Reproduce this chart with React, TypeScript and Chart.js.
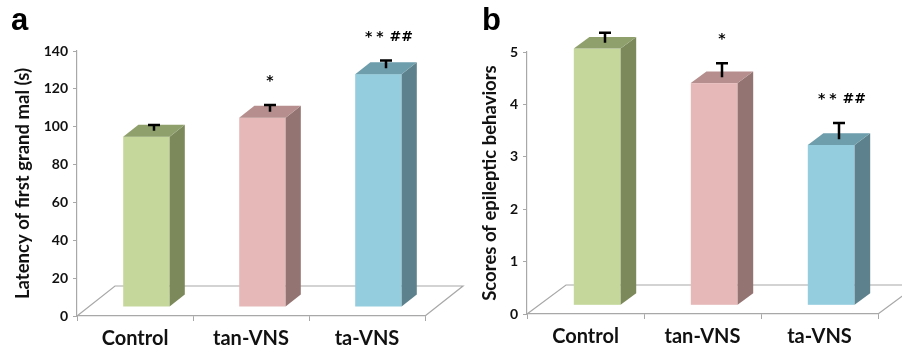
import React, { useEffect, useRef } from "react";
import { Chart, registerables } from "chart.js";

Chart.register(...registerables);

// ---- data ----
const categories = ["Control", "tan-VNS", "ta-VNS"];
const latencyMeans = [90, 100, 123];
const latencyErrors = [3, 3.5, 4];
const scoreMeans = [4.9, 4.24, 3.06];
const scoreErrors = [0.19, 0.27, 0.31];
const significanceMarks = ["", "*", "** ##"];
const latencyTicks = [0, 20, 40, 60, 80, 100, 120, 140];
const scoreTicks = [0, 1, 2, 3, 4, 5];
const latencyTitle = "Latency of first grand mal (s)";
const scoreTitle = "Scores of epileptic behaviors";

// ---- styles ----
const frontColors = ["#c5d79b", "#e6b8b8", "#94cdde"];
const sideColors = ["#7c895b", "#947473", "#5e828d"];
const topColors = ["#8fa06c", "#b58e8d", "#6e9eac"];
const AXIS = "#a8a8a8";
const FONT = "Lato, 'Open Sans', sans-serif";

function drawMark(ctx: CanvasRenderingContext2D, mark: string, cx: number, baseY: number) {
  ctx.font = "bold 14px 'DejaVu Sans', sans-serif";
  ctx.textAlign = "left";
  ctx.textBaseline = "alphabetic";
  const chars = mark.split("");
  const adv = chars.map((c) => (c === "*" ? ctx.measureText(c).width + 4 : c === " " ? 2 : ctx.measureText(c).width));
  let total = adv.reduce((a, v) => a + v, 0);
  if (chars[chars.length - 1] === "*") total -= 4;
  let x = cx - total / 2;
  chars.forEach((c, i) => {
    if (c !== " ") ctx.fillText(c, x, baseY);
    x += adv[i];
  });
}

const bar3dPlugin = {
  id: "bar3d",
  afterDatasetsDraw(chart: any, _args: any, opts: any) {
    const { ctx, chartArea, scales } = chart;
    const y = scales.y;
    const D = opts.depth;
    const y0 = y.getPixelForValue(0);
    ctx.save();
    // floor
    ctx.strokeStyle = AXIS;
    ctx.lineWidth = 1.2;
    ctx.beginPath();
    ctx.moveTo(chartArea.left, y0);
    ctx.lineTo(chartArea.left + D.dx, y0 + D.dy);
    ctx.lineTo(chartArea.right + D.dx, y0 + D.dy);
    ctx.lineTo(chartArea.right, y0);
    ctx.stroke();

    const meta = chart.getDatasetMeta(0);
    const values = chart.data.datasets[0].data;
    const f = 0.3, b = 0.7, m = 0.5;
    meta.data.forEach((el: any, i: number) => {
      const w = el.width;
      const left = el.x - w / 2;
      const right = el.x + w / 2;
      const fx = f * D.dx, fy = f * D.dy, bx = b * D.dx, by = b * D.dy;
      const top = el.y, base = el.base;
      // front face
      ctx.fillStyle = frontColors[i];
      ctx.fillRect(left + fx, top + fy, w, base - top);
      // side face
      ctx.fillStyle = sideColors[i];
      ctx.beginPath();
      ctx.moveTo(right + fx, top + fy);
      ctx.lineTo(right + bx, top + by);
      ctx.lineTo(right + bx, base + by);
      ctx.lineTo(right + fx, base + fy);
      ctx.closePath();
      ctx.fill();
      // top face
      ctx.fillStyle = topColors[i];
      ctx.beginPath();
      ctx.moveTo(left + fx, top + fy);
      ctx.lineTo(right + fx, top + fy);
      ctx.lineTo(right + bx, top + by);
      ctx.lineTo(left + bx, top + by);
      ctx.closePath();
      ctx.fill();

      // error bar (upper only)
      const cx = el.x + m * D.dx;
      const cy = top + m * D.dy;
      const ey = y.getPixelForValue(values[i] + opts.errors[i]) + m * D.dy;
      ctx.strokeStyle = "#000";
      ctx.lineWidth = 2.5;
      ctx.beginPath();
      ctx.moveTo(cx, cy);
      ctx.lineTo(cx, ey);
      ctx.moveTo(cx - 6, ey);
      ctx.lineTo(cx + 6, ey);
      ctx.stroke();

      // significance marks
      const mark = opts.marks[i];
      if (mark) {
        ctx.fillStyle = "#000";
        drawMark(ctx, mark, cx + (mark.length > 1 ? 3 : 0), ey - 20);
      }
    });

    // panel letter
    ctx.fillStyle = "#000";
    ctx.font = "bold 31px 'Liberation Sans', Arial, sans-serif";
    ctx.textAlign = "left";
    ctx.textBaseline = "alphabetic";
    ctx.fillText(opts.letter, opts.letterX, 30);
    ctx.restore();
  },
};

type PanelProps = {
  left: number;
  width: number;
  values: number[];
  errors: number[];
  ticks: number[];
  title: string;
  letter: string;
  letterX: number;
  titlePad: number;
  padRight: number;
  padTop: number;
  xHeight: number;
  depth: { dx: number; dy: number };
};

function Panel(p: PanelProps) {
  const ref = useRef<HTMLCanvasElement>(null);
  useEffect(() => {
    const chart = new Chart(ref.current as HTMLCanvasElement, {
      type: "bar",
      data: {
        labels: categories,
        datasets: [
          {
            data: p.values,
            backgroundColor: "rgba(0,0,0,0)",
            borderWidth: 0,
            barPercentage: 0.4,
            categoryPercentage: 1,
          },
        ],
      },
      options: {
        responsive: false,
        animation: false,
        devicePixelRatio: 1,
        layout: { padding: { top: p.padTop, right: p.padRight, left: 0, bottom: 0 } },
        plugins: {
          legend: { display: false },
          tooltip: { enabled: false },
          bar3d: { depth: p.depth, errors: p.errors, marks: significanceMarks, letter: p.letter, letterX: p.letterX },
        } as any,
        scales: {
          x: {
            type: "category",
            offset: true,
            grid: { offset: true, drawOnChartArea: false, drawTicks: true, tickLength: 5, color: AXIS, lineWidth: 1 },
            border: { display: true, color: AXIS, width: 1.2 },
            ticks: { color: "#111", font: { family: FONT, size: 20, weight: "bold" }, padding: 6, maxRotation: 0, autoSkip: false },
            afterFit: (s: any) => {
              s.height = p.xHeight;
            },
          },
          y: {
            type: "linear",
            min: p.ticks[0],
            max: p.ticks[p.ticks.length - 1],
            afterBuildTicks: (s: any) => {
              s.ticks = p.ticks.map((v) => ({ value: v }));
            },
            grid: { drawOnChartArea: false, drawTicks: true, tickLength: 4, color: AXIS },
            border: { display: true, color: AXIS, width: 1.2 },
            ticks: { color: "#111", font: { family: FONT, size: 14, weight: "bold" }, padding: 5 },
            title: {
              display: true,
              text: p.title,
              color: "#111",
              font: { family: FONT, size: 18.5, weight: "bold" },
              padding: { top: p.titlePad, bottom: 0 },
            },
            afterFit: (s: any) => {
              s.width = 77;
            },
          },
        } as any,
      },
      plugins: [bar3dPlugin as any],
    });
    return () => chart.destroy();
  }, []);
  return (
    <canvas
      ref={ref}
      width={p.width}
      height={348}
      style={{ position: "absolute", left: p.left, top: 0, width: p.width, height: 348 }}
    />
  );
}

export default function App() {
  return (
    <div style={{ position: "absolute", left: 0, top: 0, width: 902, height: 348, background: "#fff", overflow: "hidden" }}>
      <Panel
        left={0}
        width={470}
        values={latencyMeans}
        errors={latencyErrors}
        ticks={latencyTicks}
        title={latencyTitle}
        letter="a"
        letterX={11}
        titlePad={12}
        padRight={45}
        padTop={51}
        xHeight={32}
        depth={{ dx: 38, dy: -30 }}
      />
      <Panel
        left={450}
        width={452}
        values={scoreMeans}
        errors={scoreErrors}
        ticks={scoreTicks}
        title={scoreTitle}
        letter="b"
        letterX={32}
        titlePad={29}
        padRight={24}
        padTop={52}
        xHeight={34}
        depth={{ dx: 39, dy: -29 }}
      />
    </div>
  );
}
